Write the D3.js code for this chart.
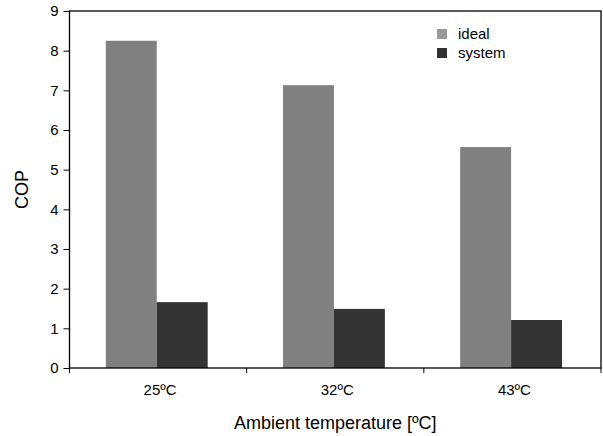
<!DOCTYPE html>
<html><head><meta charset="utf-8">
<script src="https://cdn.jsdelivr.net/npm/d3@7"></script>
<style>body{margin:0;background:#fff}text{font-family:"Liberation Sans",Arial,sans-serif;fill:#000}</style>
</head><body>
<svg id="c" width="603" height="436"></svg>
<script>
const categories = ["25ºC", "32ºC", "43ºC"];
const seriesNames = ["ideal", "system"];
const idealValues = [8.25, 7.13, 5.57];
const systemValues = [1.66, 1.49, 1.21];
const yTicks = [0,1,2,3,4,5,6,7,8,9];
const colors = ["#808080", "#333333"];

const W = 603, H = 436;
const m = {l: 69.5, t: 11, r: 2, b: 68};
const svg = d3.select("#c");
const x = d3.scaleBand().domain(categories).range([m.l, W - m.r]).paddingInner(0).paddingOuter(0);
const x1 = d3.scaleBand().domain(seriesNames).range([0, x.bandwidth()]).paddingInner(0).paddingOuter(0.36 / (1 - 0.36) * 0.5 * 2 / 2);
const y = d3.scaleLinear().domain([0, 9]).range([H - m.b, m.t]);

// bars
const data = categories.map((c, i) => ({c, vals: [idealValues[i], systemValues[i]]}));
const inner = d3.scaleBand().domain(seriesNames).range([x.bandwidth() * 0.205, x.bandwidth() * 0.78]);
svg.append("g").selectAll("g").data(data).join("g")
  .attr("transform", d => `translate(${x(d.c)},0)`)
  .selectAll("rect").data(d => d.vals.map((v, k) => ({k, v}))).join("rect")
  .attr("x", d => inner(seriesNames[d.k]))
  .attr("width", inner.bandwidth())
  .attr("y", d => y(d.v))
  .attr("height", d => y(0) - y(d.v))
  .attr("fill", d => colors[d.k]);

// box
svg.append("rect").attr("x", m.l).attr("y", m.t).attr("width", W - m.r - m.l).attr("height", H - m.b - m.t)
  .attr("fill", "none").attr("stroke", "#000").attr("stroke-width", 1.3);

// y axis
const ya = svg.append("g").attr("transform", `translate(${m.l},0)`)
  .call(d3.axisLeft(y).tickValues(yTicks).tickSize(6).tickPadding(5).tickFormat(d3.format("d")));
ya.select(".domain").remove();
ya.selectAll("text").style("font-size", "15px").attr("fill", "#000");
ya.selectAll("line").attr("stroke", "#000");

// x axis ticks at boundaries
const bounds = categories.map(c => x(c)).concat([x(categories[categories.length-1]) + x.bandwidth()]);
svg.append("g").selectAll("line").data(bounds).join("line")
  .attr("x1", d => d).attr("x2", d => d).attr("y1", y(0)).attr("y2", y(0) + 5).attr("stroke", "#000");
svg.append("g").selectAll("text").data(categories).join("text")
  .attr("x", d => x(d) + x.bandwidth() / 2 + 2).attr("y", 395)
  .attr("text-anchor", "middle").style("font-size", "15px").text(d => d);

// axis titles
svg.append("text").attr("x", (m.l + W - m.r) / 2).attr("y", 429).attr("text-anchor", "middle")
  .style("font-size", "18px").text("Ambient temperature [ºC]");
svg.append("text").attr("transform", `translate(28,${(m.t + H - m.b) / 2}) rotate(-90)`)
  .attr("text-anchor", "middle").style("font-size", "18px").text("COP");

// legend
const lg = svg.append("g").attr("transform", "translate(437,29)");
seriesNames.forEach((s, i) => {
  lg.append("rect").attr("x", 0).attr("y", i * 19).attr("width", 10).attr("height", 10).attr("fill", i === 0 ? "#999999" : colors[1]);
  lg.append("text").attr("x", 21).attr("y", i * 19 + 10).style("font-size", "15px").text(s);
});
</script>
</body></html>
